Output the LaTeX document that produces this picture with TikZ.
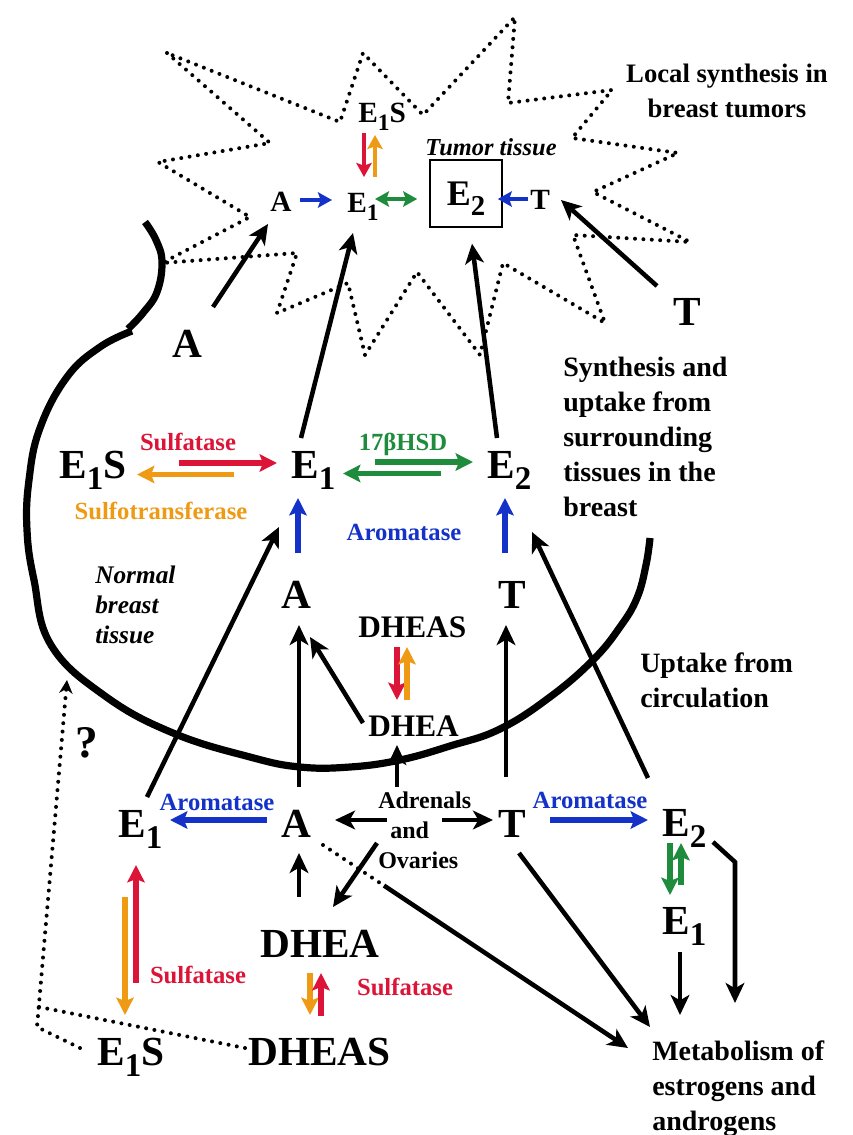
\documentclass[tikz,border=0pt]{standalone}
\usepackage{fontspec}
\setmainfont{Liberation Serif}
\usepackage{graphicx}
\usepackage{tikz}
\usetikzlibrary{arrows.meta,calc}
\definecolor{hrred}{HTML}{DC1437}
\definecolor{hrorange}{HTML}{EE9A14}
\definecolor{hrblue}{HTML}{1432C8}
\definecolor{hrgreen}{HTML}{1E8C3C}
\newcommand{\subn}[1]{\raisebox{-0.29em}{\scalebox{0.8}{#1}}}

\begin{document}
\begin{tikzpicture}[x=0.75pt, y=-0.75pt,
  big/.style={inner sep=0pt, font=\fontsize{31}{37}\selectfont\bfseries},
  midl/.style={inner sep=0pt, font=\fontsize{23.5}{28}\selectfont\bfseries},
  tum/.style={inner sep=0pt, font=\fontsize{22}{26}\selectfont\bfseries},
  enz/.style={inner sep=0pt, anchor=base, font=\fontsize{18.5}{22}\selectfont\bfseries},
  side/.style={inner sep=0pt, align=left, font=\fontsize{21}{26.25}\selectfont\bfseries},
  blk/.style={line width=3.4pt, -{Stealth[length=15pt, width=14pt, inset=4pt]}},
  enzarr/.style={line width=4.2pt, -{Stealth[length=13pt, width=13pt, inset=2.5pt]}},
  tumarr/.style={line width=3.4pt, -{Stealth[length=10.5pt, width=11.5pt, inset=2pt]}},
  tumboth/.style={line width=3.4pt, {Stealth[length=10.5pt, width=11.5pt, inset=2pt]}-{Stealth[length=10.5pt, width=11.5pt, inset=2pt]}},
  dotline/.style={line width=3pt, line cap=round, dash pattern=on 0pt off 6.3pt}]
  \useasboundingbox (0,0) rectangle (853,1135);

  % tumor outline and breast tissue
  \draw[dotline] (167,53) -- (270,143) -- (158,162) -- (250,217) -- (162,263) -- (297,253) -- (277,313) -- (348,283) -- (365,355) -- (417,272) -- (480,355) -- (503,263) -- (605,323) -- (573,235) -- (690,242) -- (593,192) -- (678,153) -- (572,138) -- (612,90) -- (508,103) -- (515,17) -- (423,115) -- (363,53) -- (340,122) -- cycle;
  \draw[line width=5.4pt] plot[smooth, tension=0.7] coordinates {(145,222) (156,240) (162,262) (157,292) (143,313) (128,329)};
  \draw[line width=5.4pt] plot[smooth, tension=0.7] coordinates {(132,331) (100,347) (67,377) (40,428) (29,480) (27,530) (34,580) (51,645) (105,696) (173,733) (250,757) (300,767) (350,767) (400,760) (450,746) (500,729) (550,697) (593,660) (620,627) (637,598) (646,565) (650,538)};

  % tumor tissue
  \node[tum, anchor=base west] (tA) at (270,211) {A};
  \node[tum, anchor=base west] (tEone) at (347,212) {E\subn{1}};
  \node[tum, anchor=base west] (tT) at (530,209) {T};
  \node[tum, anchor=base west] (tEoneS) at (358,122) {E\subn{1}S};
  \node[draw, line width=1.2pt, minimum width=54pt, minimum height=50pt, inner sep=0pt, text depth=0pt, font=\fontsize{27}{32}\selectfont\bfseries] (tEtwo) at (466,193.5) {E\subn{2}};
  \node[inner sep=0pt, anchor=base, font=\fontsize{18.3}{22}\selectfont\bfseries\itshape] (tumtis) at (491,155) {Tumor tissue};
  \node[big, anchor=base] (lftA) at (187,357) {A};
  \node[big, anchor=base] (rT) at (687,325) {T};

  % surrounding breast tissue
  \node[big, anchor=base west] (mEoneS) at (59,478) {E\subn{1}S};
  \node[big, anchor=base west] (mEone) at (291,478) {E\subn{1}};
  \node[big, anchor=base west] (mEtwo) at (487,478) {E\subn{2}};
  \node[big, anchor=base] (mA) at (296,608) {A};
  \node[big, anchor=base] (mT) at (512,608) {T};
  \node[midl, anchor=base west] (mDHEAS) at (358,637) {DHEAS};
  \node[midl, anchor=base west] (mDHEA) at (368,736) {DHEA};
  \node[enz, text=hrred] (sulfM) at (188,450) {Sulfatase};
  \node[enz, text=hrorange] (sulfoM) at (161,519) {Sulfotransferase};
  \node[enz, text=hrgreen] (hsdM) at (403,450) {17βHSD};
  \node[enz, text=hrblue] (aromM) at (404,540) {Aromatase};
  \node[side, anchor=north west, font=\fontsize{19}{22.5}\selectfont\bfseries\itshape] (normal) at (95,566) {Normal\\breast\\tissue};

  % circulation
  \node[big, anchor=base west] (lEone) at (118,837) {E\subn{1}};
  \node[big, anchor=base] (lA) at (296,837) {A};
  \node[big, anchor=base] (lT) at (512,837) {T};
  \node[big, anchor=base west] (lEtwo) at (662,836) {E\subn{2}};
  \node[big, anchor=base west] (rEone) at (662,934) {E\subn{1}};
  \node[big, anchor=base west] (lDHEA) at (260,957) {DHEA};
  \node[big, anchor=base west] (lDHEAS) at (248,1065) {DHEAS};
  \node[big, anchor=base west] (lEoneS) at (97,1065) {E\subn{1}S};
  \node[side, anchor=north west, font=\fontsize{18}{22.5}\selectfont\bfseries] (adr) at (378,792) {Adrenals\\\hspace*{0.5em}and\\Ovaries};
  \node[enz, text=hrblue] (aromL) at (217,810) {Aromatase};
  \node[enz, text=hrblue] (aromR) at (590,808) {Aromatase};
  \node[enz, text=hrred] (sulfL) at (198,983) {Sulfatase};
  \node[enz, text=hrred] (sulfR) at (405,995) {Sulfatase};
  \node[inner sep=0pt, anchor=base, font=\fontsize{34}{40}\selectfont\bfseries] (qmark) at (87,757) {?};

  % side texts
  \node[side, anchor=north, align=center, font=\fontsize{20}{26.25}\selectfont\bfseries] (local) at (727,64) {Local synthesis in\\breast tumors};
  \node[side, anchor=north west] (synth) at (563,357) {Synthesis and\\uptake from\\surrounding\\tissues in the\\breast};
  \node[side, anchor=north west] (uptake) at (640,653) {Uptake from\\circulation};
  \node[side, anchor=north west] (metab) at (652,1041) {Metabolism of\\estrogens and\\androgens};

  % tumor reactions
  \draw[tumarr, hrblue] ($(tA.base west)+(30,-11)$) -- ($(tEone.base west)+(-15,-12)$);
  \draw[tumboth, hrgreen] ($(tEone.base west)+(28,-13)$) -- ($(tEtwo.west)+(-12,5.5)$);
  \draw[tumarr, hrblue] ($(tT.base west)+(-2,-10)$) -- ($(tEtwo.east)+(-5,5.5)$);
  \draw[tumarr, hrred] ($(tEoneS.base west)+(6,11)$) -- ($(tEone.base west)+(17,-35)$);
  \draw[tumarr, hrorange] ($(tEone.base west)+(28,-35)$) -- ($(tEoneS.base west)+(17,13)$);
  \draw[blk] ($(lftA.base)+(26,-50)$) -- ($(tA.base west)+(-2,13)$);
  \draw[blk] ($(mEone.base west)+(10,-40)$) -- ($(tEone.base west)+(6,21)$);
  \draw[blk] ($(mEtwo.base west)+(10,-40)$) -- ($(tEtwo.south)+(6,16)$);
  \draw[blk] ($(rT.base)+(-30,-39)$) -- ($(tT.base west)+(31,-9)$);

  % breast tissue reactions
  \draw[enzarr, hrred] ($(mEoneS.base west)+(120,-15)$) -- ($(mEone.base west)+(-14,-15)$);
  \draw[enzarr, hrorange] ($(mEone.base west)+(-57,-3.5)$) -- ($(mEoneS.base west)+(78,-3.5)$);
  \draw[enzarr, hrgreen] ($(mEone.base west)+(84,-16)$) -- ($(mEtwo.base west)+(-14,-16)$);
  \draw[enzarr, hrgreen] ($(mEtwo.base west)+(-46,-4.5)$) -- ($(mEone.base west)+(52,-4.5)$);
  \draw[enzarr, hrblue] ($(mA.base)+(2,-55)$) -- ($(mEone.base west)+(7,20)$);
  \draw[enzarr, hrblue] ($(mT.base)+(-7,-55)$) -- ($(mEtwo.base west)+(18,20)$);
  \draw[enzarr, hrred] ($(mDHEAS.base west)+(39,10)$) -- ($(mDHEA.base west)+(29,-36)$);
  \draw[enzarr, hrorange] ($(mDHEA.base west)+(39,-36)$) -- ($(mDHEAS.base west)+(49,10)$);
  \draw[blk] ($(mDHEA.base west)+(-5,-13)$) -- ($(mA.base)+(14,29)$);

  % uptake from circulation
  \draw[blk] ($(lEone.base west)+(29,-40)$) -- ($(mEone.base west)+(-12,49)$);
  \draw[blk] ($(lEtwo.base west)+(-14,-58)$) -- ($(mEtwo.base west)+(45,54)$);
  \draw[blk] ($(lA.base)+(3,-50)$) -- ($(mA.base)+(3,17)$);
  \draw[blk] ($(adr.north west)+(19,-5)$) -- ($(mDHEA.base west)+(29,9)$);
  \draw[blk] ($(lT.base)+(-6,-60)$) -- ($(mT.base)+(-6,17)$);

  % circulation reactions
  \draw[blk] ($(adr.north west)+(9,28)$) -- ($(lA.base)+(39,-17)$);
  \draw[blk] ($(adr.north west)+(64,28)$) -- ($(lT.base)+(-19,-17)$);
  \draw[blk] ($(adr.north west)+(-1,51)$) -- ($(lDHEA.base west)+(73,-50)$);
  \draw[blk] ($(lDHEA.base west)+(39,-60)$) -- ($(lA.base)+(3,16)$);
  \draw[enzarr, hrblue] ($(lA.base)+(-29,-17)$) -- ($(lEone.base west)+(52,-17)$);
  \draw[enzarr, hrblue] ($(lT.base)+(38,-17)$) -- ($(lEtwo.base west)+(-14,-16)$);
  \draw[enzarr, hrgreen] ($(lEtwo.base west)+(8,7)$) -- ($(rEone.base west)+(8,-39)$);
  \draw[enzarr, hrgreen] ($(rEone.base west)+(19,-49)$) -- ($(lEtwo.base west)+(19,7)$);
  \draw[enzarr, hrred] ($(lEoneS.base west)+(39,-82)$) -- ($(lEone.base west)+(18,28)$);
  \draw[enzarr, hrorange] ($(lEone.base west)+(7,60)$) -- ($(lEoneS.base west)+(28,-50)$);
  \draw[enzarr, hrorange] ($(lDHEA.base west)+(50,16)$) -- ($(lDHEAS.base west)+(62,-50)$);
  \draw[enzarr, hrred] ($(lDHEAS.base west)+(73,-49)$) -- ($(lDHEA.base west)+(61,16)$);

  % metabolism
  \coordinate (amStart) at ($(lA.base)+(27,8)$);
  \coordinate (amEnd) at ($(metab.north west)+(-24,7)$);
  \coordinate (amMid) at ($(amStart)!0.2!(amEnd)$);
  \draw[dotline] (amStart) -- (amMid);
  \draw[blk] (amMid) -- (amEnd);
  \draw[blk] ($(lT.base)+(7,16)$) -- ($(metab.north west)+(-2,-14)$);
  \draw[blk] ($(rEone.base west)+(18,18)$) -- ($(metab.north west)+(28,-26)$);
  \draw[blk] ($(lEtwo.base west)+(51,6)$) -- ++(22,20) -- ($(metab.north west)+(83,-38)$);

  % uncertain route
  \coordinate (dotcorner) at (37,1027);
  \coordinate (qtip) at (67,680);
  \draw[dotline, -{Stealth[length=10pt, width=10pt]}] ($(lEoneS.base west)+(-17,-17)$) -- (dotcorner) -- (qtip);
  \draw[dotline] ($(lDHEAS.base west)+(-3,-17)$) -- ($(dotcorner)!0.058!(qtip)$);
\end{tikzpicture}
\end{document}
